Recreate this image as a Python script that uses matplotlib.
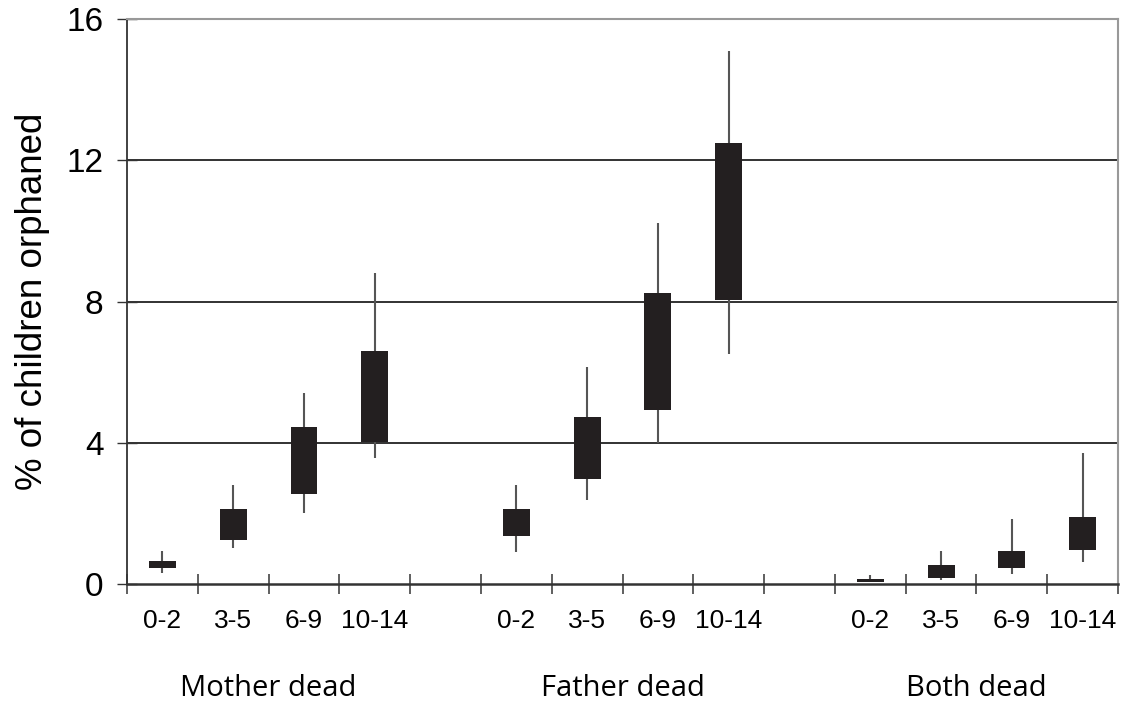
import matplotlib.pyplot as plt

plt.rcParams['font.family'] = ['Liberation Sans', 'DejaVu Sans']

groups = ["Mother dead", "Father dead", "Both dead"]
ages = ["0-2", "3-5", "6-9", "10-14"]

# box low / box high / whisker low / whisker high, per age band
mother_box_lo = [0.46, 1.26, 2.56, 4.03]
mother_box_hi = [0.65, 2.12, 4.44, 6.61]
mother_wh_lo = [0.30, 1.03, 2.00, 3.58]
mother_wh_hi = [0.93, 2.80, 5.40, 8.81]

father_box_lo = [1.37, 2.96, 4.94, 8.05]
father_box_hi = [2.12, 4.73, 8.24, 12.49]
father_wh_lo = [0.92, 2.39, 3.99, 6.52]
father_wh_hi = [2.80, 6.15, 10.23, 15.10]

both_box_lo = [0.06, 0.18, 0.46, 0.97]
both_box_hi = [0.14, 0.54, 0.93, 1.90]
both_wh_lo = [0.05, 0.12, 0.29, 0.63]
both_wh_hi = [0.25, 0.93, 1.84, 3.71]

box_lo = [mother_box_lo, father_box_lo, both_box_lo]
box_hi = [mother_box_hi, father_box_hi, both_box_hi]
wh_lo = [mother_wh_lo, father_wh_lo, both_wh_lo]
wh_hi = [mother_wh_hi, father_wh_hi, both_wh_hi]

fig = plt.figure(figsize=(11.25, 7.09), dpi=100)
ax = fig.add_axes([0.1129, 0.1763, 0.8809, 0.7969])

centers = []
for g in range(3):
    for a in range(4):
        x = g * 5 + a + 0.5
        centers.append(x)
        ax.vlines(x, wh_lo[g][a], wh_hi[g][a], color="#555555", lw=1.5, zorder=2)
        ax.bar(x, box_hi[g][a] - box_lo[g][a], bottom=box_lo[g][a], width=0.38,
               color="#231f20", zorder=3)

for yv in [4, 8, 12]:
    ax.axhline(yv, color="#222222", lw=1.3, zorder=1)

ax.set_xlim(0, 14)
ax.set_ylim(0, 16)
ax.set_yticks([0, 4, 8, 12, 16])
ax.tick_params(axis="y", direction="inout", length=14, width=1, labelsize=24, pad=10,
               color="#333333")
ax.set_xticks(range(15))
ax.set_xticklabels([])
ax.set_xticks(centers, minor=True)
ax.set_xticklabels(ages * 3, minor=True)
ax.tick_params(axis="x", which="major", direction="inout", length=14, width=1.2,
               color="#444444")
ax.tick_params(axis="x", which="minor", length=0, labelsize=19, pad=18)

ax.spines["left"].set_color("#333333")
ax.spines["left"].set_linewidth(1.3)
ax.spines["bottom"].set_color("#333333")
ax.spines["bottom"].set_linewidth(1.8)
ax.spines["top"].set_color("#999999")
ax.spines["top"].set_linewidth(1.5)
ax.spines["right"].set_color("#999999")
ax.spines["right"].set_linewidth(1.5)

ax.set_ylabel("% of children orphaned", fontsize=26.5, labelpad=12)

for g in range(3):
    ax.text(g * 5 + 2, -2.97, groups[g], ha="center", va="center", fontsize=21,
            family=["Open Sans", "DejaVu Sans"])

fig.savefig("out.png", dpi=100)
